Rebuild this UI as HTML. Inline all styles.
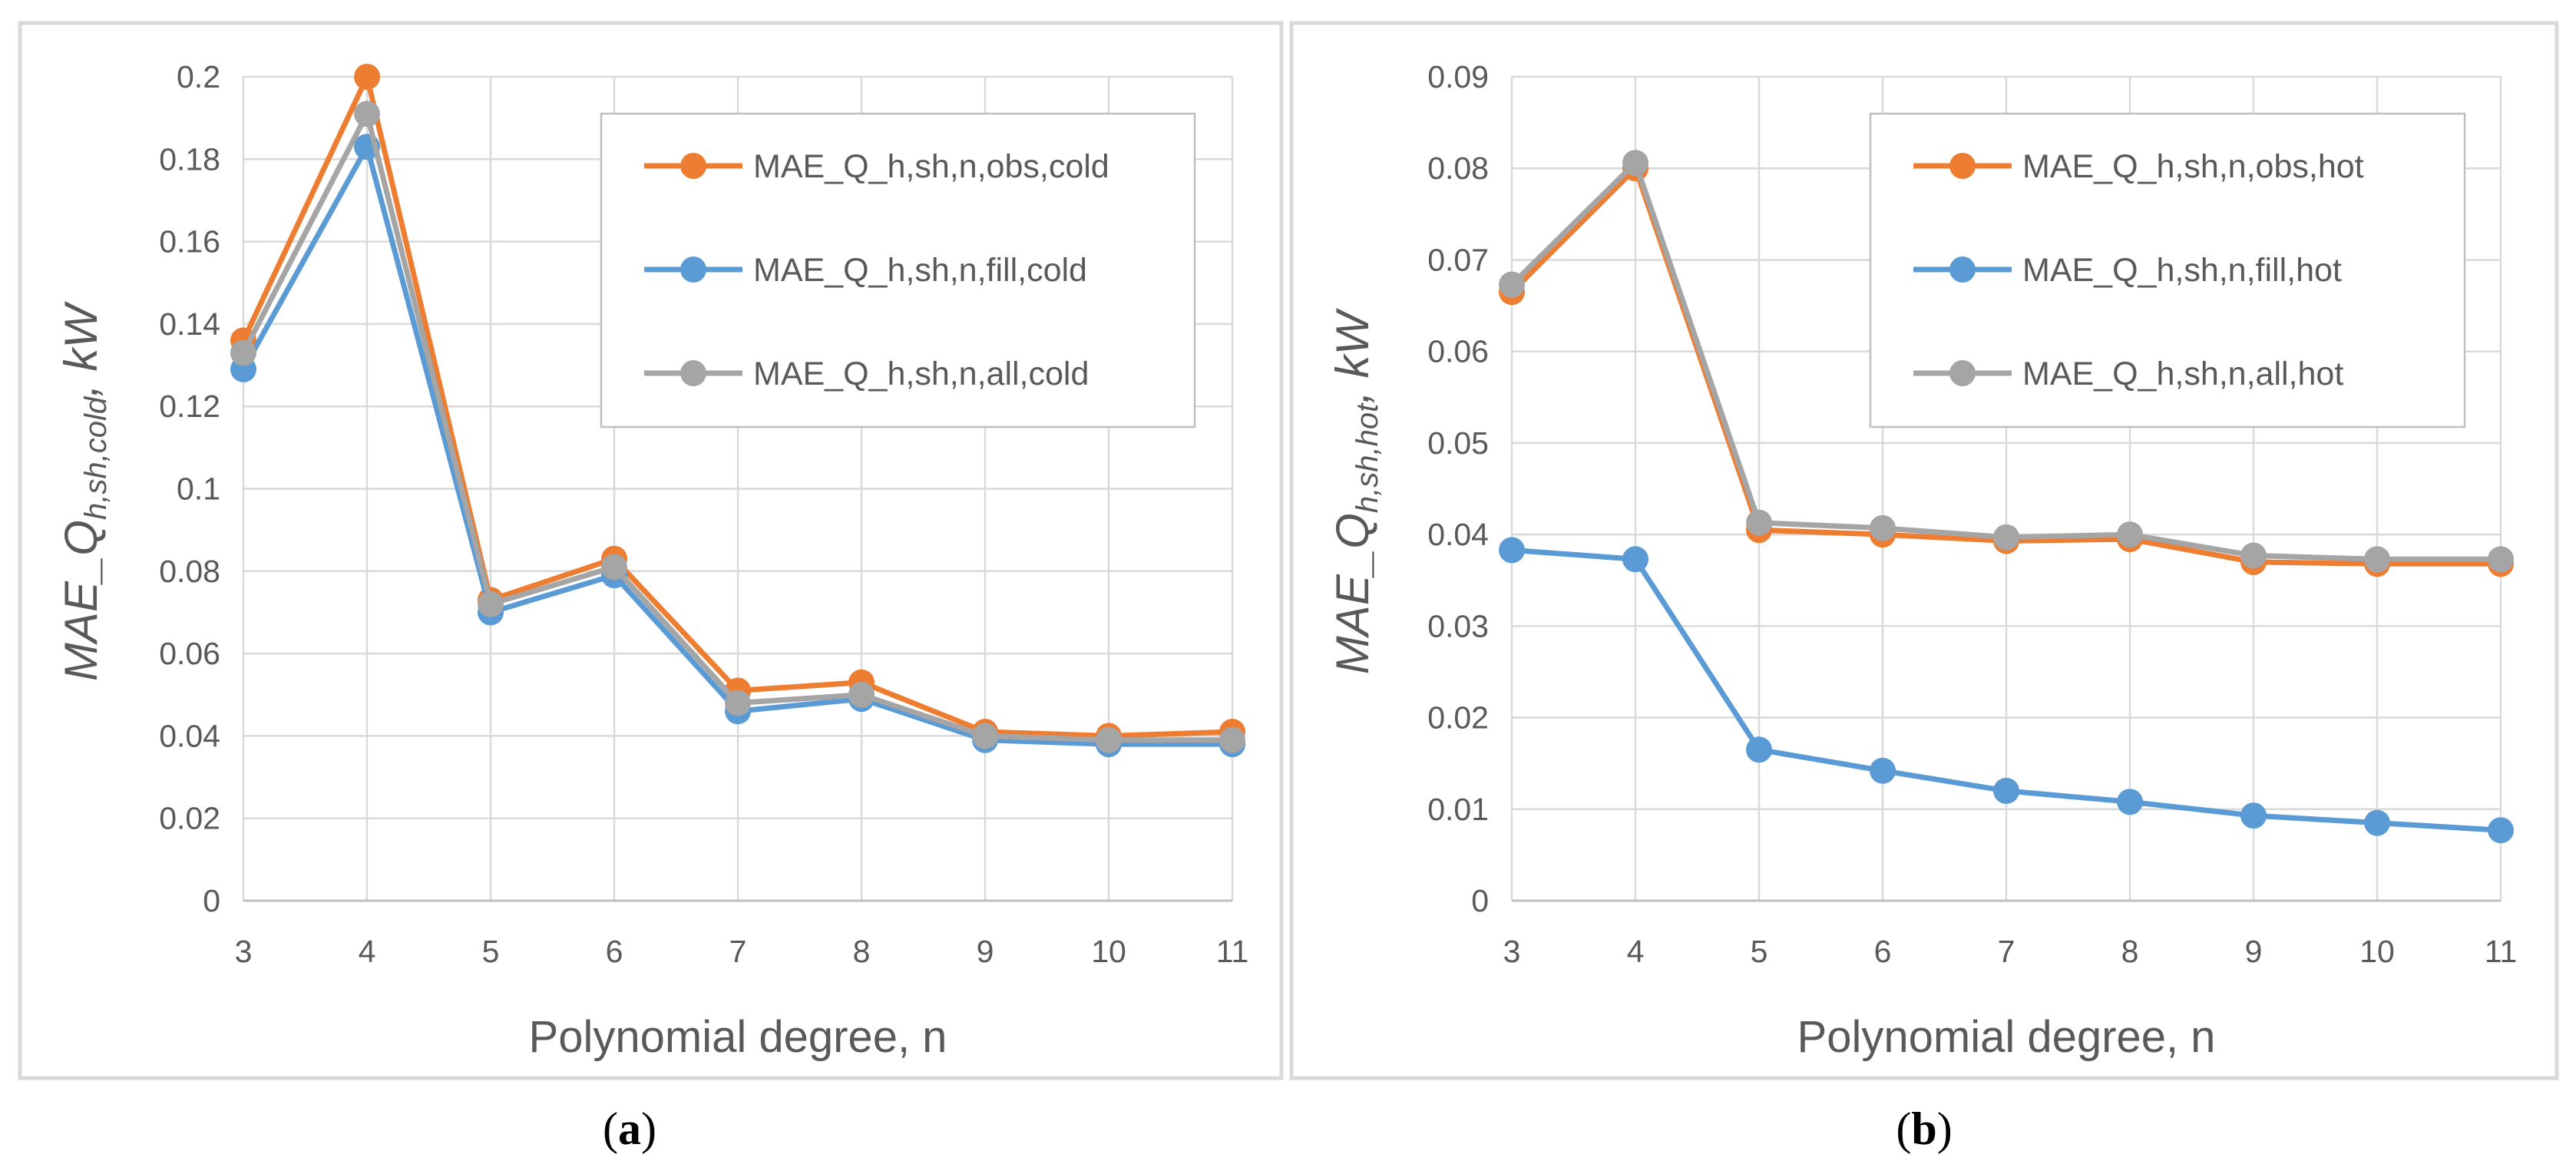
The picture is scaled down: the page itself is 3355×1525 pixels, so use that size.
<!DOCTYPE html>
<html><head><meta charset="utf-8">
<style>
html,body{margin:0;padding:0;background:#fff;}
svg{display:block;}
text{font-family:"Liberation Sans",sans-serif;}
</style></head>
<body>
<svg id="fig" width="3355" height="1525" viewBox="0 0 3355 1525" xmlns="http://www.w3.org/2000/svg"></svg>
<script>
const categories = [3,4,5,6,7,8,9,10,11];
const coldObs  = [0.136,0.200,0.073,0.083,0.051,0.053,0.041,0.040,0.041];
const coldFill = [0.129,0.183,0.070,0.079,0.046,0.049,0.039,0.038,0.038];
const coldAll  = [0.133,0.191,0.072,0.081,0.048,0.050,0.040,0.039,0.039];
const hotObs   = [0.0665,0.0800,0.0405,0.0400,0.0393,0.0395,0.0370,0.0368,0.0368];
const hotFill  = [0.0383,0.0373,0.0165,0.0142,0.0120,0.0108,0.0093,0.0085,0.0077];
const hotAll   = [0.0673,0.0806,0.0413,0.0407,0.0397,0.0400,0.0377,0.0373,0.0373];
const coldTicks = [0,0.02,0.04,0.06,0.08,0.1,0.12,0.14,0.16,0.18,0.2];
const coldTickLabels = ["0","0.02","0.04","0.06","0.08","0.1","0.12","0.14","0.16","0.18","0.2"];
const hotTicks = [0,0.01,0.02,0.03,0.04,0.05,0.06,0.07,0.08,0.09];
const hotTickLabels = ["0","0.01","0.02","0.03","0.04","0.05","0.06","0.07","0.08","0.09"];
const coldNames = ["MAE_Q_h,sh,n,obs,cold","MAE_Q_h,sh,n,fill,cold","MAE_Q_h,sh,n,all,cold"];
const hotNames = ["MAE_Q_h,sh,n,obs,hot","MAE_Q_h,sh,n,fill,hot","MAE_Q_h,sh,n,all,hot"];

const NS="http://www.w3.org/2000/svg";
const svg=document.getElementById('fig');
function el(tag,attrs,parent){const e=document.createElementNS(NS,tag);for(const k in attrs)e.setAttribute(k,attrs[k]);(parent||svg).appendChild(e);return e;}
const colors=["#ED7D31","#5B9BD5","#A5A5A5"];

function panel(p){
  const g=el('g',{});
  
  
  const fr=el('rect',{x:p.fx,y:30,width:p.fw,height:1374,fill:'#fff',stroke:'#d9d9d9','stroke-width':5},g);
  
  
  const L=p.x0,R=p.x0+1288,T=100,B=1173;
  const xs=i=>L+(R-L)*i/(categories.length-1);
  const ys=v=>B-(B-T)*v/p.max;
  p.ticks.forEach((t,i)=>{
    const ln=el('line',{x1:L,x2:R,y1:ys(t),y2:ys(t),stroke:'#d9d9d9','stroke-width':2.5},g);
    
    
    const tx=el('text',{x:L-30,y:ys(t)+14,'text-anchor':'end','font-size':41,fill:'#595959'},g);
    tx.textContent=p.labels[i];
    
    
  });
  categories.forEach((c,i)=>{
    const ln=el('line',{x1:xs(i),x2:xs(i),y1:T,y2:B,stroke:'#d9d9d9','stroke-width':2.5},g);
    
    
    const tx=el('text',{x:xs(i),y:B+80,'text-anchor':'middle','font-size':41,fill:'#595959'},g);
    tx.textContent=c;
    
    
  });
  const ax=el('line',{x1:L,x2:R,y1:B,y2:B,stroke:'#bfbfbf','stroke-width':3},g);
  
  
  p.series.forEach((s,k)=>{
    const sg=el('g',{},g);
    
    
    const pts=s.map((v,i)=>xs(i)+','+ys(v)).join(' ');
    const pl=el('polyline',{points:pts,fill:'none',stroke:colors[k],'stroke-width':7,'stroke-linejoin':'round'},sg);
    
    
    s.forEach((v,i)=>{
      const c=el('circle',{cx:xs(i),cy:ys(v),r:17,fill:colors[k]},sg);
      
      
    });
  });
  const lg=el('g',{},g);
  
  
  el('rect',{x:p.lx,y:148,width:p.lw,height:408,fill:'#fff',stroke:'#bfbfbf','stroke-width':2.5},lg);
  p.names.forEach((n,k)=>{
    const ey=216+135*k;
    const eg=el('g',{},lg);
    
    
    el('line',{x1:p.lx+56,x2:p.lx+184,y1:ey,y2:ey,stroke:colors[k],'stroke-width':7},eg);
    el('circle',{cx:p.lx+120,cy:ey,r:17,fill:colors[k]},eg);
    const t=el('text',{x:p.lx+198,y:ey+15,'font-size':43,fill:'#595959'},eg);
    t.textContent=n;
  });
  const xt=el('text',{x:(L+R)/2,y:1370,'text-anchor':'middle','font-size':58,fill:'#595959'},g);
  xt.textContent='Polynomial degree, n';
  
  
  const yt=el('text',{transform:`translate(${p.fx+100},${642}) rotate(-90)`,'text-anchor':'middle','font-size':60,'font-style':'italic',fill:'#595959'},g);
  yt.innerHTML=`MAE_Q<tspan font-size="40" dy="12">h,sh,${p.sub}</tspan><tspan dy="-12">, kW</tspan>`;
  
  
  const cap=el('text',{x:p.capx,y:1490,'text-anchor':'middle','font-size':60,fill:'#000',style:'font-family:"Liberation Serif",serif'},g);
  cap.innerHTML=`(<tspan font-weight="bold">${p.cap}</tspan>)`;
  
  
}
panel({name:'panel-a-cold',fx:26,fw:1643,x0:317,max:0.2,ticks:coldTicks,labels:coldTickLabels,series:[coldObs,coldFill,coldAll],names:coldNames,lx:783,lw:773,sub:'cold',cap:'a',capx:820});
panel({name:'panel-b-hot',fx:1682,fw:1648,x0:1969,max:0.09,ticks:hotTicks,labels:hotTickLabels,series:[hotObs,hotFill,hotAll],names:hotNames,lx:2436,lw:774,sub:'hot',cap:'b',capx:2506});
</script>
</body></html>
